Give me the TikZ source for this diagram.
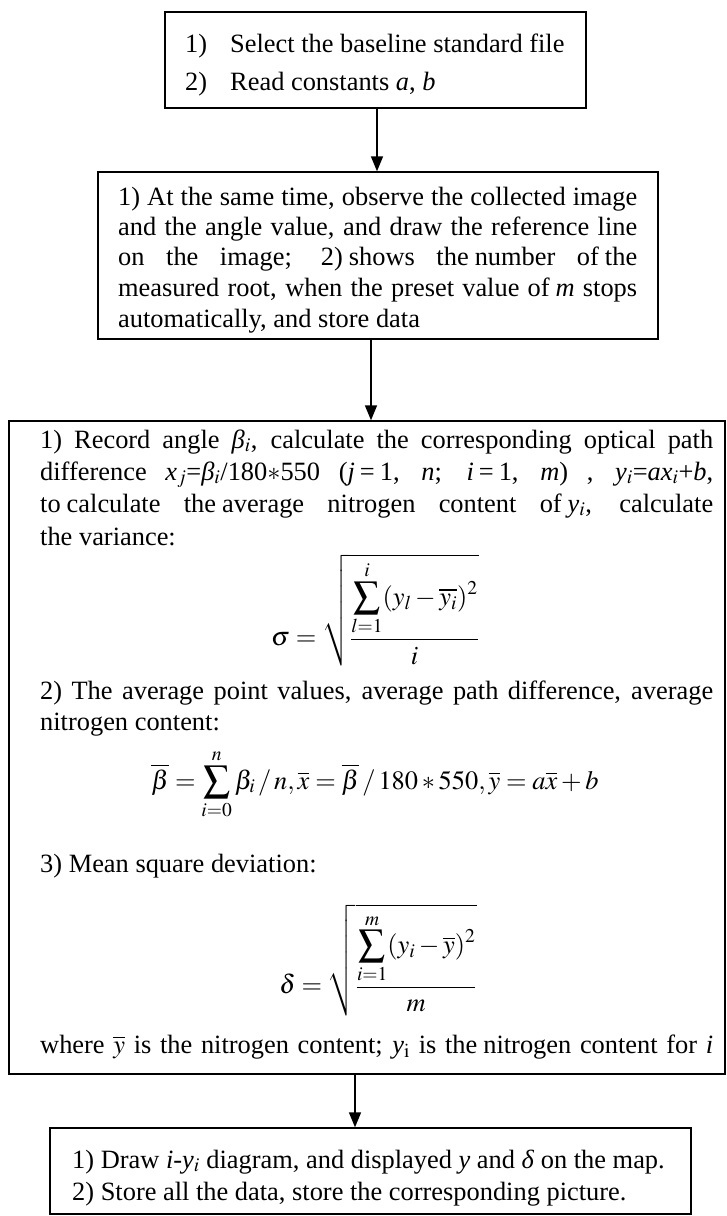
\documentclass[tikz,border=0pt]{standalone}
\usepackage{mathptmx}
\usepackage{fontspec}
\setmainfont{Liberation Serif}
\usetikzlibrary{arrows.meta}
\newcommand{\just}[2]{\makebox[#1][s]{#2}}
\newcommand{\fs}{\hspace{6pt}}
\newcommand{\eqs}{\hspace{5pt}=\hspace{5pt}}
\begin{document}
\begin{tikzpicture}[x=1pt,y=-1pt,
  box/.style={draw, line width=1.4pt, inner sep=0pt},
  arr/.style={line width=1.6pt, -{Triangle[length=15pt,width=12pt]}},
  txt/.style={anchor=base west, inner sep=0pt, font=\fontsize{26.4}{30}\selectfont},
  frm/.style={inner sep=0pt, font=\fontsize{26.4}{30}\selectfont}]
\useasboundingbox (0,0) rectangle (727,1216);
% boxes
\node[box, minimum width=421pt, minimum height=96pt] (b1) at (375.5,60) {};
\node[box, minimum width=560pt, minimum height=167pt] (b2) at (378,255.5) {};
\node[box, minimum width=716pt, minimum height=653pt] (b3) at (367,747.5) {};
\node[box, minimum width=641pt, minimum height=86pt] (b4) at (370.5,1171) {};
% box 1 text
\node[txt] (t11) at (185,52) {1)};
\node[txt] (t12) at (230,52) {Select the baseline standard file};
\node[txt] (t21) at (185,90) {2)};
\node[txt] (t22) at (230,90) {Read constants \textit{a}, \textit{b}};
% box 2 text
\node[txt] (u1) at (118,205) {\just{519pt}{1) At the same time, observe the collected image}};
\node[txt] (u2) at (118,235) {\just{519pt}{and the angle value, and draw the reference line}};
\node[txt] (u3) at (118,265) {\just{519pt}{on the image; 2)\fs{}shows the\fs{}number of\fs{}the}};
\node[txt] (u4) at (118,296) {\just{519pt}{measured root, when the preset value of\fs\textit{m} stops}};
\node[txt] (u5) at (118,327) {automatically, and store data};
% box 3 text
\node[txt] (v1) at (40,448) {\just{673pt}{1) Record angle \textit{β}$_i$, calculate the corresponding optical path}};
\node[txt] (v2) at (40,480) {\just{673pt}{difference \textit{x}$_j$=\textit{β}$_i$/180$\ast$550 (\textit{j}\eqs{}1, \textit{n}; \textit{i}\eqs{}1, \textit{m}) , \textit{y}$_i$=\textit{ax}$_i$+\textit{b},}};
\node[txt] (v3) at (40,512) {\just{673pt}{to\fs{}calculate the\fs{}average nitrogen content of\fs\textit{y}$_i$, calculate}};
\node[txt] (v4) at (40,545) {the variance:};
\node[frm] (f1) at (375,610) {$\displaystyle \sigma=\sqrt{\frac{\displaystyle\sum_{l=1}^{i}(y_l-\overline{y_i})^2}{i}}$};
\node[txt] (v5) at (40,699) {\just{673pt}{2) The average point values, average path difference, average}};
\node[txt] (v6) at (40,730) {nitrogen content:};
\node[frm, anchor=base] (f2) at (375,789) {$\displaystyle \overline{\beta}=\sum_{i=0}^{n}\beta_i\,/\,n,\overline{x}=\overline{\beta}\,/\,180\ast550,\overline{y}=a\overline{x}+b$};
\node[txt] (v7) at (40,872) {3) Mean square deviation:};
\node[frm] (f3) at (378,960) {$\displaystyle \delta=\sqrt{\frac{\displaystyle\sum_{i=1}^{m}(y_i-\overline{y})^2}{m}}$};
\node[txt] (v8) at (40,1053) {\just{673pt}{where $\overline{y}$ is the nitrogen content; \textit{y}$_{\mathrm{i}}$ is the\fs{}nitrogen content for \textit{i}}};
% box 4 text
\node[txt] (w1) at (72,1168) {1) Draw \textit{i}-\textit{y}$_i$ diagram, and displayed \textit{y} and \textit{δ} on the map.};
\node[txt] (w2) at (72,1200) {2) Store all the data, store the corresponding picture.};
% connectors
\coordinate (a1) at (377,0);
\coordinate (a2) at (371,0);
\coordinate (a3) at (355,0);
\draw[arr] (b1.south -| a1) -- (b2.north -| a1);
\draw[arr] (b2.south -| a2) -- (b3.north -| a2);
\draw[arr] (b3.south -| a3) -- (b4.north -| a3);
\end{tikzpicture}
\end{document}
